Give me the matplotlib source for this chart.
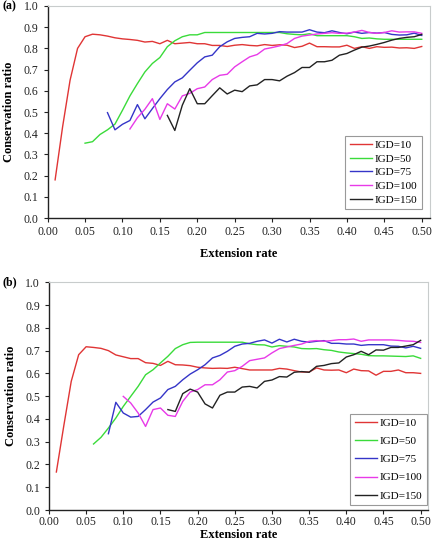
import matplotlib
matplotlib.use("Agg")
import matplotlib.pyplot as plt
import numpy as np

plt.rcParams['font.family'] = ['Liberation Serif', 'DejaVu Serif']

labels = ["IGD=10", "IGD=50", "IGD=75", "IGD=100", "IGD=150"]
colors = ["#E03535", "#3ADB3A", "#3535C8", "#E83AE8", "#222222"]

# Panel (a) – each series starts at its own x and steps by 0.01
a_start = [0.01, 0.05, 0.08, 0.11, 0.16]
a_igd10 = [0.18, 0.43, 0.65, 0.80, 0.855, 0.867, 0.864, 0.858, 0.85, 0.845, 0.842, 0.838, 0.83, 0.833,
           0.822, 0.838, 0.822, 0.825, 0.828, 0.822, 0.822, 0.814, 0.814, 0.809, 0.815,
           0.818, 0.814, 0.812, 0.818, 0.814, 0.817, 0.815, 0.804, 0.81, 0.825, 0.808, 0.808, 0.807,
           0.807, 0.815, 0.80, 0.808, 0.80, 0.808, 0.805, 0.806, 0.802, 0.803, 0.80, 0.809]
a_igd50 = [0.353, 0.36, 0.394, 0.416, 0.443, 0.508, 0.576, 0.634, 0.689, 0.729, 0.757, 0.808, 0.836,
           0.855, 0.864, 0.864, 0.875, 0.875, 0.875, 0.875, 0.875, 0.875, 0.875, 0.875, 0.875, 0.875,
           0.875, 0.869, 0.866, 0.864, 0.869, 0.86, 0.86, 0.86, 0.86, 0.86, 0.855, 0.847, 0.849,
           0.845, 0.843, 0.843, 0.843, 0.843, 0.843, 0.843]
a_igd75 = [0.497, 0.416, 0.442, 0.46, 0.535, 0.468, 0.516, 0.563, 0.606, 0.642, 0.661, 0.697, 0.732,
           0.76, 0.768, 0.808, 0.831, 0.847, 0.852, 0.855, 0.871, 0.868, 0.871, 0.879, 0.877, 0.877,
           0.877, 0.888, 0.877, 0.874, 0.883, 0.875, 0.869, 0.877, 0.871, 0.875, 0.872, 0.875, 0.866,
           0.863, 0.864, 0.872, 0.861]
a_igd100 = [0.42, 0.473, 0.513, 0.563, 0.465, 0.539, 0.514, 0.576, 0.588, 0.61, 0.618, 0.653, 0.673,
            0.678, 0.713, 0.737, 0.76, 0.771, 0.797, 0.804, 0.812, 0.823, 0.847, 0.858, 0.863, 0.868,
            0.871, 0.874, 0.871, 0.872, 0.877, 0.885, 0.875, 0.871, 0.875, 0.883, 0.877, 0.878,
            0.878, 0.871]
a_igd150 = [0.484, 0.413, 0.532, 0.61, 0.539, 0.539, 0.577, 0.614, 0.585, 0.603, 0.596, 0.623, 0.628,
            0.653, 0.653, 0.647, 0.669, 0.686, 0.71, 0.71, 0.737, 0.737, 0.744, 0.768, 0.776, 0.792,
            0.806, 0.811, 0.819, 0.828, 0.839, 0.847, 0.852, 0.855, 0.866]

# Panel (b)
b_start = [0.01, 0.06, 0.08, 0.10, 0.16]
b_igd10 = [0.167, 0.37, 0.565, 0.682, 0.717, 0.714, 0.71, 0.70, 0.681, 0.673, 0.665, 0.665, 0.647,
           0.644, 0.635, 0.653, 0.638, 0.637, 0.634, 0.627, 0.624, 0.622, 0.623, 0.622, 0.627,
           0.621, 0.615, 0.615, 0.615, 0.615, 0.622, 0.619, 0.612, 0.606, 0.606, 0.624, 0.615, 0.614,
           0.615, 0.603, 0.619, 0.612, 0.611, 0.592, 0.609, 0.609, 0.615, 0.603, 0.603, 0.600]
b_igd50 = [0.29, 0.319, 0.36, 0.404, 0.455, 0.499, 0.543, 0.594, 0.616, 0.646, 0.675, 0.709, 0.726,
           0.736, 0.737, 0.737, 0.737, 0.737, 0.737, 0.737, 0.737, 0.73, 0.726, 0.725, 0.716, 0.722,
           0.719, 0.716, 0.709, 0.708, 0.709, 0.704, 0.701, 0.694, 0.69, 0.687, 0.684, 0.678, 0.677,
           0.677, 0.676, 0.675, 0.674, 0.677, 0.666]
b_igd75 = [0.335, 0.473, 0.426, 0.408, 0.411, 0.441, 0.474, 0.492, 0.529, 0.543, 0.572, 0.597, 0.616,
           0.638, 0.668, 0.679, 0.697, 0.719, 0.729, 0.732, 0.741, 0.747, 0.733, 0.75, 0.738, 0.75,
           0.741, 0.737, 0.741, 0.744, 0.732, 0.732, 0.729, 0.729, 0.723, 0.726, 0.726, 0.726, 0.72,
           0.719, 0.712, 0.719, 0.71]
b_igd100 = [0.499, 0.47, 0.426, 0.367, 0.441, 0.448, 0.416, 0.411, 0.477, 0.518, 0.529, 0.55, 0.55,
            0.572, 0.606, 0.612, 0.631, 0.656, 0.662, 0.668, 0.69, 0.709, 0.716, 0.723, 0.729, 0.741,
            0.744, 0.741, 0.744, 0.748, 0.748, 0.751, 0.741, 0.747, 0.747, 0.747, 0.747, 0.745,
            0.742, 0.741, 0.736]
b_igd150 = [0.441, 0.433, 0.511, 0.531, 0.518, 0.466, 0.448, 0.504, 0.518, 0.518, 0.54, 0.543, 0.536,
            0.565, 0.571, 0.586, 0.584, 0.605, 0.608, 0.605, 0.631, 0.635, 0.643, 0.646, 0.672, 0.682,
            0.697, 0.682, 0.703, 0.702, 0.714, 0.714, 0.72, 0.726, 0.745]

xticks = [0.00, 0.05, 0.10, 0.15, 0.20, 0.25, 0.30, 0.35, 0.40, 0.45, 0.50]
yticks = [0.0, 0.1, 0.2, 0.3, 0.4, 0.5, 0.6, 0.7, 0.8, 0.9, 1.0]

fig = plt.figure(figsize=(4.33, 5.5), dpi=100)
ax_a = fig.add_axes([0.110, 0.6036, 0.883, 0.3855])
ax_b = fig.add_axes([0.113, 0.0727, 0.8746, 0.414])


def draw(ax, starts, series, xmax, legend_anchor, labelspacing, tag, xpad, xlabelpad):
    for s, y, c, lab in zip(starts, series, colors, labels):
        x = np.round(s + 0.01 * np.arange(len(y)), 2)
        ax.plot(x, y, color=c, lw=1.0, label=lab)
    ax.set_xlim(0, xmax)
    ax.set_ylim(0, 1.0)
    ax.set_xticks(xticks)
    ax.set_xticklabels([f"{v:.2f}" for v in xticks])
    ax.set_yticks(yticks)
    ax.set_yticklabels([f"{v:.1f}" for v in yticks])
    ax.tick_params(direction='out', length=3, width=0.8, labelsize=8.5, colors='#222222')
    ax.tick_params(axis='x', pad=xpad)
    for sp in ['top', 'right']:
        ax.spines[sp].set_color('#C8CCCC')
        ax.spines[sp].set_linewidth(0.8)
    for sp in ['left', 'bottom']:
        ax.spines[sp].set_color('#222222')
        ax.spines[sp].set_linewidth(1.0)
    ax.set_xlabel("Extension rate", fontsize=9, fontweight='bold', labelpad=xlabelpad)
    ax.set_ylabel("Conservation ratio", fontsize=9, fontweight='bold', labelpad=6)
    leg = ax.legend(loc='lower right', bbox_to_anchor=legend_anchor, fontsize=8,
                    frameon=True, fancybox=False, edgecolor='#808080',
                    handlelength=2.0, handletextpad=0.25, labelspacing=labelspacing,
                    borderpad=0.4, borderaxespad=0.0)
    leg.get_frame().set_linewidth(0.8)
    fig.text(0.005, ax.get_position().y1, tag, fontsize=8.5, fontweight='bold',
             ha='left', va='center')


draw(ax_a, a_start, [a_igd10, a_igd50, a_igd75, a_igd100, a_igd150], 0.511,
     (0.979, 0.042), 0.35, "(a)", 3, 7)
draw(ax_b, b_start, [b_igd10, b_igd50, b_igd75, b_igd100, b_igd150], 0.5094,
     (0.998, 0.022), 0.75, "(b)", 1, 1)

fig.savefig("out.png", dpi=100)
